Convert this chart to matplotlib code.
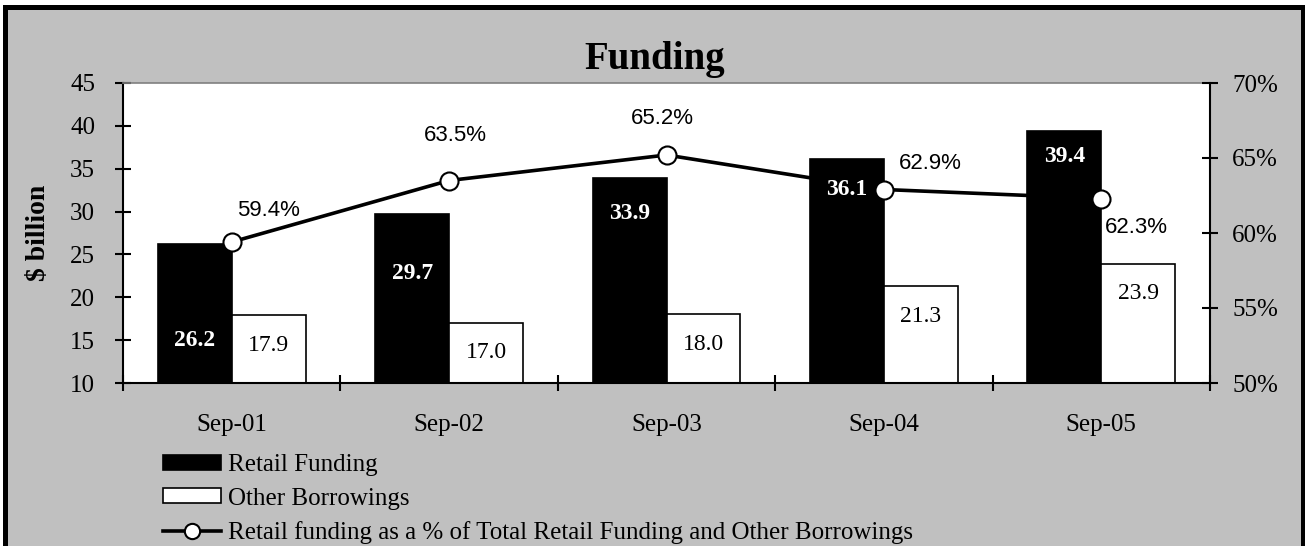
import matplotlib.pyplot as plt
import numpy as np
from matplotlib.patches import Patch, Rectangle
from matplotlib.lines import Line2D
from matplotlib.ticker import FuncFormatter

# data
periods = ["Sep-01", "Sep-02", "Sep-03", "Sep-04", "Sep-05"]
retail_funding = [26.2, 29.7, 33.9, 36.1, 39.4]
other_borrowings = [17.9, 17.0, 18.0, 21.3, 23.9]
retail_share = [59.4, 63.5, 65.2, 62.9, 62.3]

# label placement (pixels)
retail_label_drop = [96, 59, 35, 30, 26]
share_label_offset = [(37, 32), (6, 45), (-4, 36), (46, 26), (35, -29)]

SERIF = "Liberation Serif"
SANS = "Liberation Sans"
GREY = "#c0c0c0"

fig = plt.figure(figsize=(13.05, 5.46), dpi=100)
fig.patch.set_facecolor("white")

# grey chart area with black frame
frame = Rectangle((5.5 / 1305, -0.05), (1302.5 - 5.5) / 1305, 1 - 7 / 546 + 0.05,
                  transform=fig.transFigure, facecolor=GREY, edgecolor="black",
                  linewidth=3.6, zorder=-10)
fig.patches.append(frame)

ax = fig.add_axes([123 / 1305, 1 - 383 / 546, (1210 - 123) / 1305, 300 / 546])
ax.set_facecolor("white")

# secondary axis only carries the % scale; everything is drawn on ax so the
# line can sit behind the bars while the markers sit on top
ax2 = ax.twinx()
ax2.set_ylim(50, 70)
ax2.set_yticks(np.arange(50, 71, 5))
ax2.yaxis.set_major_formatter(FuncFormatter(lambda v, p: f"{v:.0f}%"))
ax2.tick_params(axis="y", direction="inout", length=12, width=1.5, pad=10)
for lab in ax2.get_yticklabels():
    lab.set_fontfamily(SERIF)
    lab.set_fontsize(18)
for s in ["left", "top", "bottom"]:
    ax2.spines[s].set_visible(False)
ax2.spines["right"].set_linewidth(1.5)

x = np.arange(len(periods))
w = 0.34
ax.bar(x - w / 2, retail_funding, w, color="black", edgecolor="black", linewidth=1.2, zorder=2)
ax.bar(x + w / 2, other_borrowings, w, color="white", edgecolor="black", linewidth=1.2, zorder=2)

ax.plot(x, retail_share, color="black", linewidth=2.6, transform=ax2.transData, zorder=1)
ax.plot(x, retail_share, linestyle="none", marker="o", markersize=13,
        markerfacecolor="white", markeredgecolor="black", markeredgewidth=1.5,
        transform=ax2.transData, zorder=4)

ax.set_ylim(10, 45)
ax.set_xlim(-0.5, len(periods) - 0.5)
ax.set_yticks(np.arange(10, 46, 5))
ax.set_xticks(x)
ax.set_xticklabels(periods)
ax.set_xticks(np.arange(-0.5, len(periods), 1), minor=True)
ax.tick_params(axis="x", which="major", length=0, pad=22)
ax.tick_params(axis="x", which="minor", direction="inout", length=11, width=1.5)
ax.tick_params(axis="y", direction="inout", length=12, width=1.5, pad=14)
for lab in ax.get_xticklabels() + ax.get_yticklabels():
    lab.set_fontfamily(SERIF)
    lab.set_fontsize(18)

ax.spines["left"].set_linewidth(1.5)
ax.spines["bottom"].set_linewidth(1.5)
ax.spines["top"].set_color("#808080")
ax.spines["top"].set_linewidth(1.2)
ax.spines["right"].set_visible(False)

ax.set_ylabel("$ billion", fontfamily=SERIF, fontsize=20, fontweight="bold", labelpad=14)

# bar value labels
for i, v in enumerate(retail_funding):
    ax.annotate(f"{v:.1f}", (x[i] - w / 2, v), xytext=(0, -retail_label_drop[i]),
                textcoords="offset pixels", ha="center", va="center", color="white",
                fontfamily=SERIF, fontsize=17, fontweight="bold", zorder=5)
for i, v in enumerate(other_borrowings):
    ax.annotate(f"{v:.1f}", (x[i] + w / 2, v), xytext=(0, -30),
                textcoords="offset pixels", ha="center", va="center", color="black",
                fontfamily=SERIF, fontsize=17, zorder=5)
for i, v in enumerate(retail_share):
    dx, dy = share_label_offset[i]
    ax.annotate(f"{v:.1f}%", (x[i], v), xycoords=ax2.transData, xytext=(dx, dy),
                textcoords="offset pixels", ha="center", va="center",
                fontfamily=SANS, fontsize=16, zorder=5)

fig.text(655 / 1305, 1 - 59 / 546, "Funding", ha="center", va="center",
         fontfamily=SERIF, fontsize=28, fontweight="bold")

handles = [
    Patch(facecolor="black", edgecolor="black", linewidth=1.2, label="Retail Funding"),
    Patch(facecolor="white", edgecolor="black", linewidth=1.2, label="Other Borrowings"),
    Line2D([], [], color="black", linewidth=2.6, marker="o", markersize=11,
           markerfacecolor="white", markeredgecolor="black", markeredgewidth=1.5,
           label="Retail funding as a % of Total Retail Funding and Other Borrowings"),
]
fig.legend(handles=handles, loc="upper left", bbox_to_anchor=(163 / 1305, 1 - 454 / 546),
           bbox_transform=fig.transFigure, frameon=False, borderpad=0, borderaxespad=0,
           handlelength=2.3, handleheight=0.55, handletextpad=0.3, labelspacing=0.46,
           prop={"family": SERIF, "size": 18})

fig.savefig("out.png", dpi=100)
